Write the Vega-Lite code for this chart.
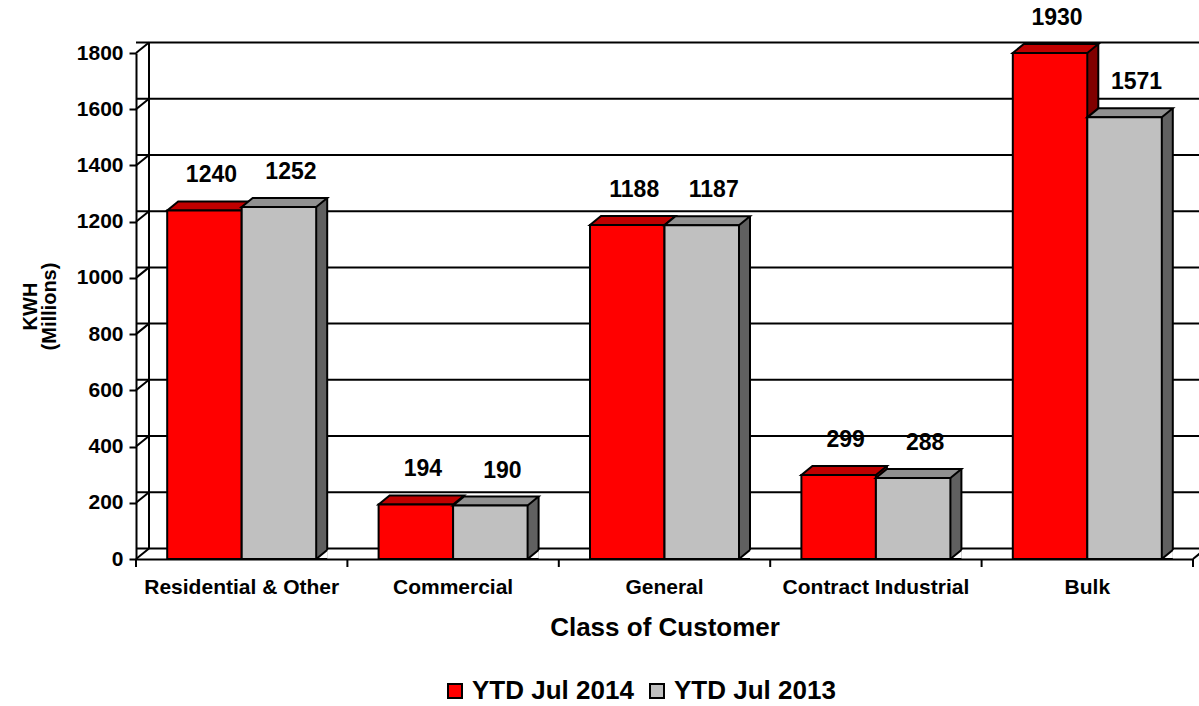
{
  "$schema": "https://vega.github.io/schema/vega-lite/v6.json",
  "width": 1057,
  "height": 506,
  "autosize": {"type": "none"},
  "padding": {"left": 136, "top": 53, "right": 6, "bottom": 147},
  "background": "white",
  "config": {"font": "Liberation Sans", "view": {"stroke": null},
    "axisY": {"titleFontSize": 20, "titleFontWeight": "bold", "titleColor": "black", "titleLineHeight": 19}},
  "datasets": {
    "bars": [
      {"cat": "Residential & Other", "series": "YTD Jul 2014", "value": 1240},
      {"cat": "Residential & Other", "series": "YTD Jul 2013", "value": 1252},
      {"cat": "Commercial", "series": "YTD Jul 2014", "value": 194},
      {"cat": "Commercial", "series": "YTD Jul 2013", "value": 190},
      {"cat": "General", "series": "YTD Jul 2014", "value": 1188},
      {"cat": "General", "series": "YTD Jul 2013", "value": 1187},
      {"cat": "Contract Industrial", "series": "YTD Jul 2014", "value": 299},
      {"cat": "Contract Industrial", "series": "YTD Jul 2013", "value": 288},
      {"cat": "Bulk", "series": "YTD Jul 2014", "value": 1930},
      {"cat": "Bulk", "series": "YTD Jul 2013", "value": 1571}
    ],
    "grid": [{"v": 0}, {"v": 200}, {"v": 400}, {"v": 600}, {"v": 800}, {"v": 1000}, {"v": 1200}, {"v": 1400}, {"v": 1600}, {"v": 1800}],
    "one": [{"k": 1}]
  },
  "layer": [
    {
      "data": {"name": "grid"},
      "mark": {"type": "rule", "color": "black", "strokeWidth": 2, "xOffset": 13, "x2Offset": 13, "yOffset": -10.5},
      "encoding": {"y": {"field": "v", "type": "quantitative", "scale": {"domain": [0, 1800], "clamp": true, "nice": false},
        "axis": {"title": ["KWH", "(Millions)"], "titleFontSize": 20, "titleFontWeight": "bold", "titleColor": "black", "titlePadding": 17, "titleLineHeight": 19,
          "values": [0, 200, 400, 600, 800, 1000, 1200, 1400, 1600, 1800], "format": "d",
          "labelFontSize": 21, "labelFontWeight": "bold", "labelColor": "black", "labelPadding": 6,
          "tickSize": 7, "tickWidth": 2, "tickColor": "black", "domainColor": "black", "domainWidth": 2, "grid": false, "zindex": 1}}}
    },
    {
      "data": {"name": "grid"},
      "mark": {"type": "rule", "color": "black", "strokeWidth": 2, "x2Offset": 13, "y2Offset": -10.5},
      "encoding": {
        "x": {"value": 0},
        "x2": {"value": 0},
        "y": {"field": "v", "type": "quantitative"},
        "y2": {"field": "v"}
      }
    },
    {
      "data": {"name": "one"},
      "mark": {"type": "rule", "color": "black", "strokeWidth": 2, "xOffset": 13, "x2Offset": 13, "yOffset": -10.5, "y2Offset": -10.5},
      "encoding": {
        "x": {"value": 0},
        "x2": {"value": 0},
        "y": {"datum": 0, "type": "quantitative"},
        "y2": {"datum": 1800}
      }
    },
    {
      "data": {"name": "one"},
      "mark": {"type": "rule", "color": "black", "strokeWidth": 2, "x2Offset": 13, "y2Offset": -10.5},
      "encoding": {
        "x": {"value": {"expr": "width"}},
        "x2": {"value": {"expr": "width"}},
        "y": {"datum": 0, "type": "quantitative"},
        "y2": {"datum": 0}
      }
    },
    {
      "data": {"name": "bars"},
      "transform": [{"filter": "datum.series === 'YTD Jul 2014'"}],
      "layer": [
        {
          "mark": {"type": "bar", "width": 11, "xOffset": 5.5, "yOffset": -9, "fill": "#800000"},
          "encoding": {
            "x": {"field": "cat", "type": "nominal", "sort": null, "scale": {"paddingInner": 0.2946, "paddingOuter": 0.1473},
              "axis": {"title": "Class of Customer", "titleFontSize": 26, "titleFontWeight": "bold", "titleColor": "black", "titlePadding": 17,
                "labelFontSize": 21, "labelFontWeight": "bold", "labelColor": "black", "labelPadding": 17, "labelAngle": 0, "labelLimit": 300,
                "ticks": false, "domainColor": "black", "domainWidth": 2, "zindex": 1}},
            "y": {"field": "value", "type": "quantitative"},
            "y2": {"datum": 0}
          }
        },
        {
          "mark": {"type": "point", "shape": "M48.25,0L37.25,0L48.25,-9", "size": 4, "xOffset": -37.25, "fill": "white", "stroke": "black", "strokeWidth": 2, "filled": true, "opacity": 1},
          "encoding": {"x": {"field": "cat", "type": "nominal", "sort": null}, "y": {"datum": 0, "type": "quantitative"}}
        },
        {
          "mark": {"type": "rule", "xOffset": 11, "yOffset": -9, "y2Offset": -9, "color": "black", "strokeWidth": 2},
          "encoding": {"x": {"field": "cat", "type": "nominal", "sort": null}, "y": {"field": "value", "type": "quantitative"}, "y2": {"datum": 0}}
        },
        {
          "mark": {"type": "point", "shape": "M-37.25,0L37.25,0L48.25,-9L-26.25,-9Z", "size": 4, "xOffset": -37.25, "fill": "#C00000", "stroke": "black", "strokeWidth": 2, "filled": true, "opacity": 1},
          "encoding": {"x": {"field": "cat", "type": "nominal", "sort": null}, "y": {"field": "value", "type": "quantitative"}}
        },
        {
          "mark": {"type": "bar", "width": 74.5, "xOffset": -37.25, "stroke": "black", "strokeWidth": 2},
          "encoding": {
            "x": {"field": "cat", "type": "nominal", "sort": null},
            "y": {"field": "value", "type": "quantitative"},
            "y2": {"datum": 0},
            "fill": {"field": "series", "type": "nominal", "scale": {"domain": ["YTD Jul 2014", "YTD Jul 2013"], "range": ["#FF0000", "#C0C0C0"]},
              "legend": {"orient": "none", "legendX": 306, "legendY": 625, "direction": "horizontal", "title": null, "symbolType": "square", "symbolSize": 196,
                "symbolStrokeColor": "black", "symbolStrokeWidth": 2, "symbolOpacity": 1, "labelFontSize": 26, "labelFont": "Liberation Sans", "labelFontWeight": "bold",
                "labelColor": "black", "columnPadding": 10, "labelOffset": 4, "padding": 0, "labelLimit": 400}}
          }
        },
        {
          "mark": {"type": "rule", "xOffset": -105.7, "y2Offset": 8, "color": "black", "strokeWidth": 2},
          "encoding": {"x": {"field": "cat", "type": "nominal", "sort": null}, "y": {"datum": 0, "type": "quantitative"}, "y2": {"datum": 0}}
        }
      ]
    },
    {
      "data": {"name": "bars"},
      "transform": [{"filter": "datum.series === 'YTD Jul 2013'"}],
      "layer": [
        {
          "mark": {"type": "bar", "width": 11, "xOffset": 80, "yOffset": -9, "fill": "#606060"},
          "encoding": {"x": {"field": "cat", "type": "nominal", "sort": null}, "y": {"field": "value", "type": "quantitative"}, "y2": {"datum": 0}}
        },
        {
          "mark": {"type": "point", "shape": "M48.25,0L37.25,0L48.25,-9", "size": 4, "xOffset": 37.25, "fill": "white", "stroke": "black", "strokeWidth": 2, "filled": true, "opacity": 1},
          "encoding": {"x": {"field": "cat", "type": "nominal", "sort": null}, "y": {"datum": 0, "type": "quantitative"}}
        },
        {
          "mark": {"type": "rule", "xOffset": 85.5, "yOffset": -9, "y2Offset": -9, "color": "black", "strokeWidth": 2},
          "encoding": {"x": {"field": "cat", "type": "nominal", "sort": null}, "y": {"field": "value", "type": "quantitative"}, "y2": {"datum": 0}}
        },
        {
          "mark": {"type": "point", "shape": "M-37.25,0L37.25,0L48.25,-9L-26.25,-9Z", "size": 4, "xOffset": 37.25, "fill": "#909090", "stroke": "black", "strokeWidth": 2, "filled": true, "opacity": 1},
          "encoding": {"x": {"field": "cat", "type": "nominal", "sort": null}, "y": {"field": "value", "type": "quantitative"}}
        },
        {
          "mark": {"type": "bar", "width": 74.5, "xOffset": 37.25, "stroke": "black", "strokeWidth": 2},
          "encoding": {
            "x": {"field": "cat", "type": "nominal", "sort": null},
            "y": {"field": "value", "type": "quantitative"},
            "y2": {"datum": 0},
            "fill": {"field": "series", "type": "nominal"}
          }
        }
      ]
    },
    {
      "data": {"name": "bars"},
      "transform": [{"filter": "datum.series === 'YTD Jul 2014' && datum.cat === 'Bulk'"}],
      "mark": {"type": "rule", "xOffset": 105.7, "y2Offset": 8, "color": "black", "strokeWidth": 2},
      "encoding": {"x": {"field": "cat", "type": "nominal", "sort": null}, "y": {"datum": 0, "type": "quantitative"}, "y2": {"datum": 0}}
    },
    {
      "data": {"name": "bars"},
      "transform": [{"filter": "datum.series === 'YTD Jul 2014'"}],
      "mark": {"type": "text", "fontSize": 23, "fontWeight": "bold", "color": "black", "xOffset": -37.25, "dx": 7, "dy": -35, "baseline": "middle", "align": "center"},
      "encoding": {"x": {"field": "cat", "type": "nominal", "sort": null}, "y": {"field": "value", "type": "quantitative"}, "text": {"field": "value", "type": "quantitative"}}
    },
    {
      "data": {"name": "bars"},
      "transform": [{"filter": "datum.series === 'YTD Jul 2013'"}],
      "mark": {"type": "text", "fontSize": 23, "fontWeight": "bold", "color": "black", "xOffset": 37.25, "dx": 12, "dy": -35, "baseline": "middle", "align": "center"},
      "encoding": {"x": {"field": "cat", "type": "nominal", "sort": null}, "y": {"field": "value", "type": "quantitative"}, "text": {"field": "value", "type": "quantitative"}}
    }
  ]
}
